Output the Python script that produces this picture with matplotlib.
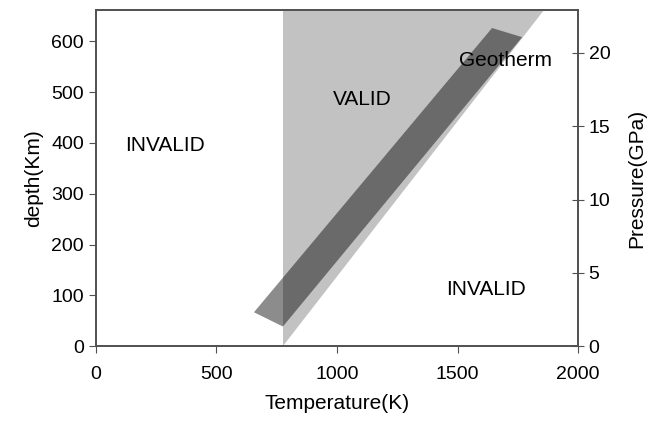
import matplotlib
matplotlib.use("Agg")
import matplotlib.pyplot as plt

plt.rcParams['font.family'] = ['Liberation Sans', 'DejaVu Sans']

# Regione valida (triangolo grigio chiaro): temperatura (K), profondità (km)
valid_temp = [776, 776, 1859]
valid_depth = [0, 661, 661]

# Geoterma (banda scura)
geo_temp = [656, 776, 1768, 1643]
geo_depth = [67, 39, 608, 626]

depth_ticks = [0, 100, 200, 300, 400, 500, 600]
pressure_ticks = [0, 5, 10, 15, 20]
temp_ticks = [0, 500, 1000, 1500, 2000]

spine_col = "#505050"
lab_fs = 15
tick_fs = 14

fig, ax = plt.subplots(figsize=(6.6, 4.26), dpi=100)
fig.subplots_adjust(left=0.145, right=0.876, top=0.976, bottom=0.187)

ax.fill(valid_temp, valid_depth, color="#c2c2c2", lw=0)
ax.fill(geo_temp, geo_depth, color="black", alpha=0.45, lw=0)

ax.set_xlim(0, 2000)
ax.set_ylim(0, 661)
ax.set_xticks(temp_ticks)
ax.set_yticks(depth_ticks)
ax.set_xlabel("Temperature(K)", fontsize=lab_fs, labelpad=8)
ax.set_ylabel("depth(Km)", fontsize=lab_fs, labelpad=6)
ax.tick_params(axis='both', labelsize=tick_fs, direction='out', length=5, color=spine_col)
ax.tick_params(axis='x', pad=9)

ax.text(286, 395, "INVALID", fontsize=lab_fs, ha="center", va="center")
ax.text(1104, 486, "VALID", fontsize=lab_fs, ha="center", va="center")
ax.text(1697, 563, "Geotherm", fontsize=lab_fs, ha="center", va="center")
ax.text(1618, 112, "INVALID", fontsize=lab_fs, ha="center", va="center")

ax2 = ax.twinx()
ax2.set_ylim(0, 22.9)
ax2.set_yticks(pressure_ticks)
ax2.set_ylabel("Pressure(GPa)", fontsize=lab_fs, labelpad=12)
ax2.tick_params(axis='y', labelsize=tick_fs, direction='inout', length=8, color=spine_col)

for a in (ax, ax2):
    for s in a.spines.values():
        s.set_color(spine_col)
        s.set_linewidth(1.2)

fig.savefig("out.png", dpi=100)
